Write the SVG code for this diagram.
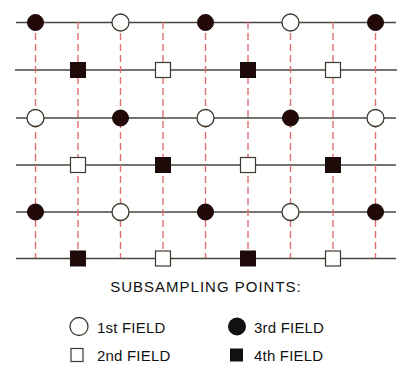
<svg xmlns="http://www.w3.org/2000/svg" width="403" height="367" viewBox="0 0 403 367">
<style>
.h{stroke:#4a4440;stroke-width:1.3;fill:none}
.v{stroke:#e07070;stroke-width:1.4;stroke-dasharray:7 4;fill:none}
.oc{fill:#fff;stroke:#3a3a2e;stroke-width:1.3}
.fc{fill:#230808;stroke:#1a0a0a;stroke-width:1}
.os{fill:#fff;stroke:#3a3a2e;stroke-width:1.2}
.fs{fill:#1e0a08;stroke:#1a0a0a;stroke-width:1}
.t{font-family:"Liberation Sans",Arial,sans-serif;fill:#111}
</style>
<rect width="403" height="367" fill="#fff"/>
<g id="connectors">
<path class="h" d="M16 22.5H396M15 70H397M16 118H396M16 165H396M16 212H396M16 258.5H396"/>
<path class="v" d="M35.5 22V258M78 22V258M120.5 22V258M163 22V258M205.5 22V258M248 22V258M290.5 22V258M333 22V258M375.5 22V258"/>
</g>
<g id="row1">
<circle id="r1c1" class="fc" cx="35.5" cy="22.5" r="8"/>
<circle id="r1c3" class="oc" cx="120.5" cy="22.5" r="8.5"/>
<circle id="r1c5" class="fc" cx="205.5" cy="22.5" r="8"/>
<circle id="r1c7" class="oc" cx="290.5" cy="22.5" r="8.5"/>
<circle id="r1c9" class="fc" cx="375.5" cy="22.5" r="8"/>
</g>
<g id="row2">
<rect id="r2c2" class="fs" x="70.5" y="62.5" width="15" height="15"/>
<rect id="r2c4" class="os" x="155.5" y="62.5" width="15" height="15"/>
<rect id="r2c6" class="fs" x="240.5" y="62.5" width="15" height="15"/>
<rect id="r2c8" class="os" x="325.5" y="62.5" width="15" height="15"/>
</g>
<g id="row3">
<circle id="r3c1" class="oc" cx="35.5" cy="118" r="8.5"/>
<circle id="r3c3" class="fc" cx="120.5" cy="118" r="8"/>
<circle id="r3c5" class="oc" cx="205.5" cy="118" r="8.5"/>
<circle id="r3c7" class="fc" cx="290.5" cy="118" r="8"/>
<circle id="r3c9" class="oc" cx="375.5" cy="118" r="8.5"/>
</g>
<g id="row4">
<rect id="r4c2" class="os" x="70.5" y="157.5" width="15" height="15"/>
<rect id="r4c4" class="fs" x="155.5" y="157.5" width="15" height="15"/>
<rect id="r4c6" class="os" x="240.5" y="157.5" width="15" height="15"/>
<rect id="r4c8" class="fs" x="325.5" y="157.5" width="15" height="15"/>
</g>
<g id="row5">
<circle id="r5c1" class="fc" cx="35.5" cy="212" r="8"/>
<circle id="r5c3" class="oc" cx="120.5" cy="212" r="8.5"/>
<circle id="r5c5" class="fc" cx="205.5" cy="212" r="8"/>
<circle id="r5c7" class="oc" cx="290.5" cy="212" r="8.5"/>
<circle id="r5c9" class="fc" cx="375.5" cy="212" r="8"/>
</g>
<g id="row6">
<rect id="r6c2" class="fs" x="70.5" y="251" width="15" height="15"/>
<rect id="r6c4" class="os" x="155.5" y="251" width="15" height="15"/>
<rect id="r6c6" class="fs" x="240.5" y="251" width="15" height="15"/>
<rect id="r6c8" class="os" x="325.5" y="251" width="15" height="15"/>
</g>
<g id="legend">
<text class="t" x="206" y="292" font-size="15" letter-spacing="1" text-anchor="middle">SUBSAMPLING POINTS:</text>
<g id="leg1"><circle class="oc" cx="79" cy="326.5" r="9"/><text class="t" x="97" y="333" font-size="15" letter-spacing="0.2">1st FIELD</text></g>
<g id="leg3"><circle cx="237" cy="326.5" r="9" fill="#111"/><text class="t" x="254" y="333" font-size="15" letter-spacing="0.2">3rd FIELD</text></g>
<g id="leg2"><rect class="os" x="71" y="348.5" width="12" height="13"/><text class="t" x="97" y="361" font-size="15" letter-spacing="0.2">2nd FIELD</text></g>
<g id="leg4"><rect x="230" y="348.5" width="13" height="13" fill="#111"/><text class="t" x="254" y="361" font-size="15" letter-spacing="0.2">4th FIELD</text></g>
</g>
</svg>
